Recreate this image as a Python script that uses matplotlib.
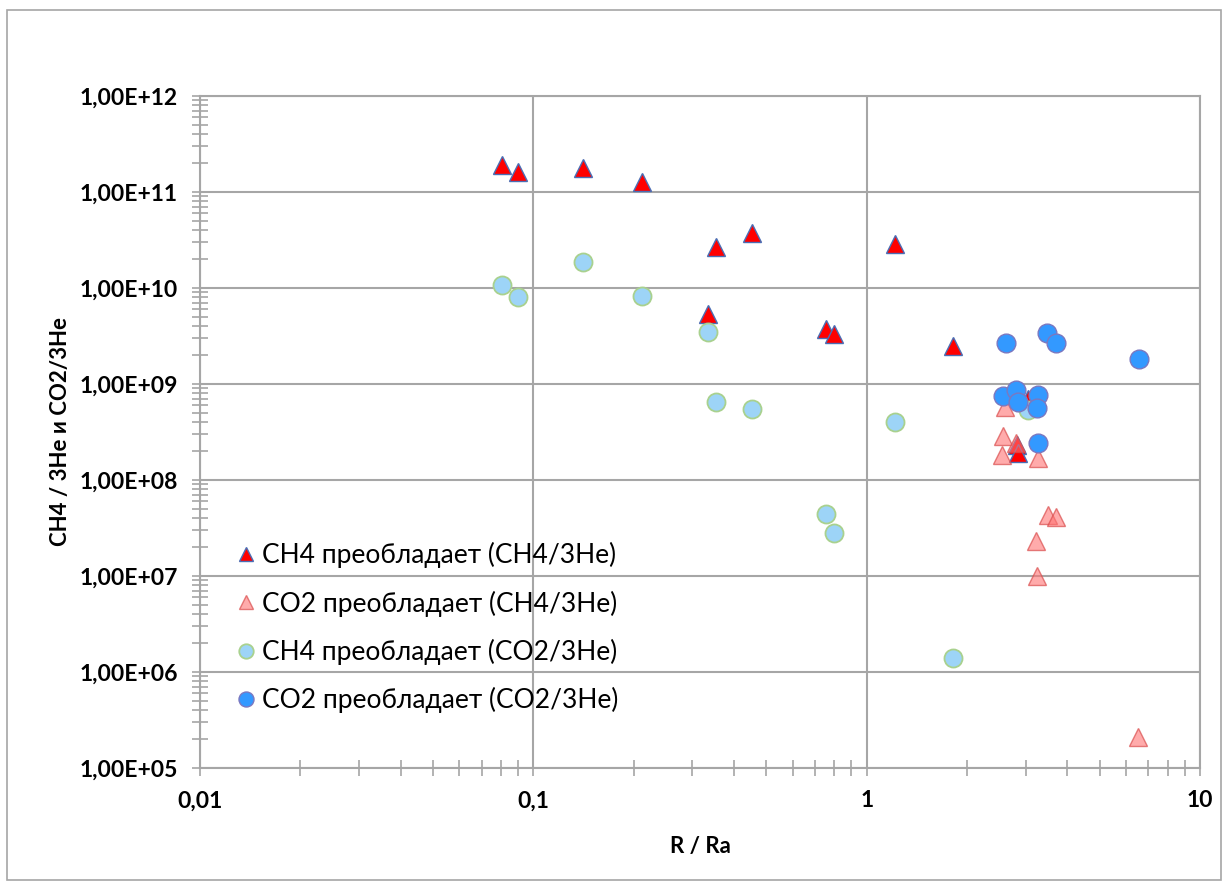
import numpy as np
import matplotlib.pyplot as plt
from matplotlib.ticker import FuncFormatter, LogLocator, FixedLocator
from matplotlib.patches import Rectangle

# CH4 dominant, CH4/3He (red triangles)
ch4_ch4_x = [0.0805, 0.090, 0.141, 0.212, 0.353, 0.453, 0.334, 0.755, 0.80, 1.22, 1.82, 2.82, 2.84, 3.05]
ch4_ch4_y = [1.9e11, 1.6e11, 1.78e11, 1.27e11, 2.7e10, 3.7e10, 5.3e9, 3.7e9, 3.3e9, 2.9e10, 2.5e9, 2.3e8, 1.9e8, 6.9e8]

# CO2 dominant, CH4/3He (pink triangles)
co2_ch4_x = [2.60, 2.56, 2.55, 2.80, 3.27, 3.50, 3.70, 3.22, 3.24, 6.5]
co2_ch4_y = [5.8e8, 2.9e8, 1.8e8, 2.4e8, 1.7e8, 4.3e7, 4.1e7, 2.3e7, 1.0e7, 2.1e5]

# CH4 dominant, CO2/3He (light blue circles)
ch4_co2_x = [0.0805, 0.090, 0.141, 0.212, 0.334, 0.353, 0.453, 0.755, 0.80, 1.22, 1.82, 3.05]
ch4_co2_y = [1.07e10, 8.1e9, 1.87e10, 8.3e9, 3.5e9, 6.5e8, 5.5e8, 4.4e7, 2.8e7, 4.0e8, 1.4e6, 5.4e8]

# CO2 dominant, CO2/3He (blue circles)
co2_co2_x = [2.62, 3.48, 3.70, 6.56, 2.56, 2.80, 2.85, 3.27, 3.24, 3.27]
co2_co2_y = [2.7e9, 3.4e9, 2.7e9, 1.8e9, 7.5e8, 8.7e8, 6.5e8, 7.7e8, 5.6e8, 2.4e8]

labels = ["CH4 преобладает (CH4/3He)", "CO2 преобладает (CH4/3He)",
          "CH4 преобладает (CO2/3He)", "CO2 преобладает (CO2/3He)"]

plt.rcParams['font.family'] = ['Lato', 'DejaVu Sans']

fig = plt.figure(figsize=(12.25, 8.83), dpi=100)
ax = fig.add_axes([200 / 1225, 1 - 768 / 883, 1000 / 1225, 672 / 883])

ax.plot(ch4_ch4_x, ch4_ch4_y, ls='none', marker='^', ms=13, mfc='#FF0000',
        mec='#4A6EB5', mew=1.0, label=labels[0], zorder=3)
ax.plot(co2_ch4_x, co2_ch4_y, ls='none', marker='^', ms=13, mfc=(1, 0.45, 0.45, 0.6),
        mec=(0.85, 0.3, 0.3, 0.7), mew=1.0, label=labels[1], zorder=4)
ax.plot(ch4_co2_x, ch4_co2_y, ls='none', marker='o', ms=13, mfc='#9DD4F7',
        mec='#A9D18E', mew=1.3, label=labels[2], zorder=5)
ax.plot(co2_co2_x, co2_co2_y, ls='none', marker='o', ms=13.5, mfc='#3399FF',
        mec='#7B78C0', mew=1.0, label=labels[3], zorder=6)

ax.set_xscale('log')
ax.set_yscale('log')
ax.set_xlim(0.01, 10)
ax.set_ylim(1e5, 1e12)

ax.xaxis.set_major_locator(FixedLocator([0.01, 0.1, 1, 10]))
ax.yaxis.set_major_locator(FixedLocator([10.0 ** k for k in range(5, 13)]))
ax.xaxis.set_minor_locator(LogLocator(base=10, subs=np.arange(2, 10), numticks=20))
ax.yaxis.set_minor_locator(LogLocator(base=10, subs=np.arange(2, 10), numticks=20))

xlab = {0.01: "0,01", 0.1: "0,1", 1: "1", 10: "10"}
ax.xaxis.set_major_formatter(FuncFormatter(lambda v, p: xlab.get(round(v, 2) if v < 1 else round(v), "")))
ax.yaxis.set_major_formatter(FuncFormatter(lambda v, p: "1,00E+%02d" % round(np.log10(v))))

gc = '#A6A6A6'
ax.grid(True, which='major', color=gc, lw=1.5)
ax.set_axisbelow(True)
for s in ax.spines.values():
    s.set_color(gc)
    s.set_linewidth(1.5)
ax.tick_params(which='both', direction='inout', color=gc, width=1.2)
ax.tick_params(which='major', length=12, labelsize=16.5, pad=10)
ax.tick_params(which='minor', length=11)
for t in ax.get_xticklabels() + ax.get_yticklabels():
    t.set_fontweight('bold')

ax.set_xlabel("R / Ra", fontsize=16, fontweight='bold', labelpad=18)
ax.set_ylabel("CH4 / 3He и CO2/3He", fontsize=16, fontweight='bold', labelpad=6)

ax.legend(loc='upper left', bbox_to_anchor=(226 / 1225, 1 - 537 / 883),
          bbox_transform=fig.transFigure, frameon=False, fontsize=19,
          handletextpad=0.05, handlelength=1.1, labelspacing=0.84, markerscale=0.8,
          borderaxespad=0, borderpad=0.2)

fig.add_artist(Rectangle((7 / 1225, 3 / 883), 1214 / 1225, 870 / 883,
                         transform=fig.transFigure, fill=False, ec='#A6A6A6', lw=1.2))

fig.savefig("out.png", dpi=100)
